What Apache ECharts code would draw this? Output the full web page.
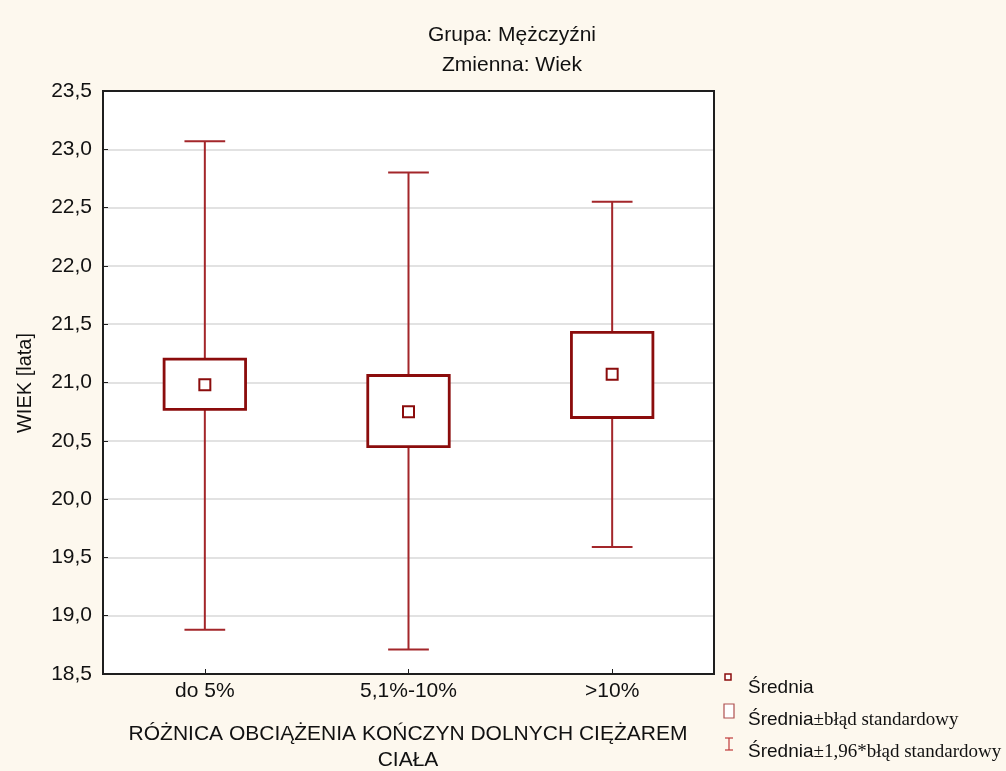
<!DOCTYPE html>
<html>
<head>
<meta charset="utf-8">
<script src="https://cdn.jsdelivr.net/npm/echarts@6/dist/echarts.min.js"></script>
<style>
  html, body { margin: 0; padding: 0; background: #fdf8ee; }
  #chart { width: 1006px; height: 771px; }
</style>
</head>
<body>
<div id="chart"></div>
<script>
// Age (years) by difference in lower-limb loading, men
const categories = ['do 5%', '5,1%-10%', '>10%'];
const means  = [20.98, 20.75, 21.07];
const seLow  = [20.77, 20.45, 20.70];
const seHigh = [21.20, 21.06, 21.43];
const ciLow  = [18.88, 18.71, 19.59];
const ciHigh = [23.07, 22.80, 22.55];

const BOX_COLOR = '#8b0c0c';
const WHISKER_COLOR = '#a3262a';
const FONT = '"Liberation Sans", Arial, sans-serif';
const SERIF = '"Liberation Serif", "Times New Roman", serif';

const GRID = { left: 103, top: 91, right: 714, bottom: 674 };

const data = categories.map((c, i) => [i, means[i], seLow[i], seHigh[i], ciLow[i], ciHigh[i]]);

function renderItem(params, api) {
  const idx = api.value(0);
  const band = api.size([1, 0])[0];
  const pMean = api.coord([idx, api.value(1)]);
  const pSeLo = api.coord([idx, api.value(2)]);
  const pSeHi = api.coord([idx, api.value(3)]);
  const pCiLo = api.coord([idx, api.value(4)]);
  const pCiHi = api.coord([idx, api.value(5)]);
  const x = pMean[0];
  const boxW = band * 0.4;
  const capW = band * 0.2;
  const m = 11;
  const wStyle = { stroke: WHISKER_COLOR, lineWidth: 2 };
  return {
    type: 'group',
    children: [
      { type: 'line', shape: { x1: x, y1: pCiLo[1], x2: x, y2: pCiHi[1] }, style: wStyle },
      { type: 'line', shape: { x1: x - capW / 2, y1: pCiHi[1], x2: x + capW / 2, y2: pCiHi[1] }, style: wStyle },
      { type: 'line', shape: { x1: x - capW / 2, y1: pCiLo[1], x2: x + capW / 2, y2: pCiLo[1] }, style: wStyle },
      { type: 'rect', shape: { x: x - boxW / 2, y: pSeHi[1], width: boxW, height: pSeLo[1] - pSeHi[1] },
        style: { fill: '#ffffff', stroke: BOX_COLOR, lineWidth: 2.8 } },
      { type: 'rect', shape: { x: x - m / 2, y: pMean[1] - m / 2, width: m, height: m },
        style: { fill: '#ffffff', stroke: BOX_COLOR, lineWidth: 2 } }
    ]
  };
}

const chart = echarts.init(document.getElementById('chart'), null, { renderer: 'canvas' });

const legendX = 748;
chart.setOption({
  backgroundColor: '#fdf8ee',
  animation: false,
  grid: {
    left: GRID.left, right: 1006 - GRID.right, top: GRID.top, bottom: 771 - GRID.bottom,
    show: true, backgroundColor: '#ffffff', borderWidth: 0
  },
  xAxis: {
    type: 'category',
    data: categories,
    axisLine: { show: true, lineStyle: { color: '#1e1e1e', width: 2 } },
    axisTick: { show: true, inside: true, alignWithLabel: true, length: 5, lineStyle: { color: '#1e1e1e' } },
    axisLabel: { color: '#111', fontSize: 21, fontFamily: FONT, margin: 7 },
    splitLine: { show: false }
  },
  yAxis: {
    type: 'value',
    min: 18.5, max: 23.5, interval: 0.5,
    axisLine: { show: true, lineStyle: { color: '#1e1e1e', width: 2 } },
    axisTick: { show: true, inside: true, length: 5, lineStyle: { color: '#1e1e1e' } },
    axisLabel: {
      color: '#111', fontSize: 21, fontFamily: FONT, margin: 11,
      formatter: v => v.toFixed(1).replace('.', ',')
    },
    splitLine: { show: true, lineStyle: { color: '#d9d9d9', width: 1.5 } }
  },
  series: [{
    type: 'custom',
    renderItem: renderItem,
    data: data,
    encode: { x: 0, y: [1, 2, 3, 4, 5] },
    z: 5
  }],
  graphic: [
    // frame around the plot area
    { type: 'rect', z: 100, silent: true,
      shape: { x: GRID.left, y: GRID.top, width: GRID.right - GRID.left, height: GRID.bottom - GRID.top },
      style: { fill: 'none', stroke: '#1e1e1e', lineWidth: 2 } },
    { type: 'text', x: 512, y: 35,
      style: { text: 'Grupa: Mężczyźni', font: '21px ' + FONT, fill: '#111', align: 'center', verticalAlign: 'middle' } },
    { type: 'text', x: 512, y: 65,
      style: { text: 'Zmienna: Wiek', font: '21px ' + FONT, fill: '#111', align: 'center', verticalAlign: 'middle' } },
    { type: 'text', x: 25, y: 383, rotation: Math.PI / 2,
      style: { text: 'WIEK [lata]', font: '20px ' + FONT, fill: '#111', align: 'center', verticalAlign: 'middle' } },
    { type: 'text', x: 408, y: 734,
      style: { text: 'RÓŻNICA OBCIĄŻENIA KOŃCZYN DOLNYCH CIĘŻAREM', font: '21px ' + FONT, fill: '#111', align: 'center', verticalAlign: 'middle' } },
    { type: 'text', x: 408, y: 760,
      style: { text: 'CIAŁA', font: '21px ' + FONT, fill: '#111', align: 'center', verticalAlign: 'middle' } },
    // legend: mean marker
    { type: 'rect', shape: { x: 725, y: 674, width: 6, height: 6 },
      style: { fill: '#fff', stroke: BOX_COLOR, lineWidth: 1.5 } },
    { type: 'text', x: legendX, y: 688,
      style: { text: 'Średnia', font: '19px ' + FONT, fill: '#111', verticalAlign: 'middle' } },
    // legend: standard error box
    { type: 'rect', shape: { x: 724, y: 704, width: 10, height: 14 },
      style: { fill: '#fff', stroke: '#b05050', lineWidth: 1.2 } },
    { type: 'text', x: legendX, y: 720,
      style: {
        text: '{a|Średnia}{b|±błąd standardowy}',
        verticalAlign: 'middle',
        rich: {
          a: { font: '19px ' + FONT, fill: '#111' },
          b: { font: '19px ' + SERIF, fill: '#111' }
        }
      } },
    // legend: 1.96 * SE whisker
    { type: 'group', children: [
      { type: 'line', shape: { x1: 729, y1: 738, x2: 729, y2: 750 }, style: { stroke: '#c03a3a', lineWidth: 1.2 } },
      { type: 'line', shape: { x1: 725, y1: 738, x2: 733, y2: 738 }, style: { stroke: '#c03a3a', lineWidth: 1.2 } },
      { type: 'line', shape: { x1: 725, y1: 750, x2: 733, y2: 750 }, style: { stroke: '#c03a3a', lineWidth: 1.2 } }
    ] },
    { type: 'text', x: legendX, y: 752,
      style: {
        text: '{a|Średnia}{b|±1,96*błąd standardowy}',
        verticalAlign: 'middle',
        rich: {
          a: { font: '19px ' + FONT, fill: '#111' },
          b: { font: '19px ' + SERIF, fill: '#111' }
        }
      } }
  ]
});
</script>
</body>
</html>
